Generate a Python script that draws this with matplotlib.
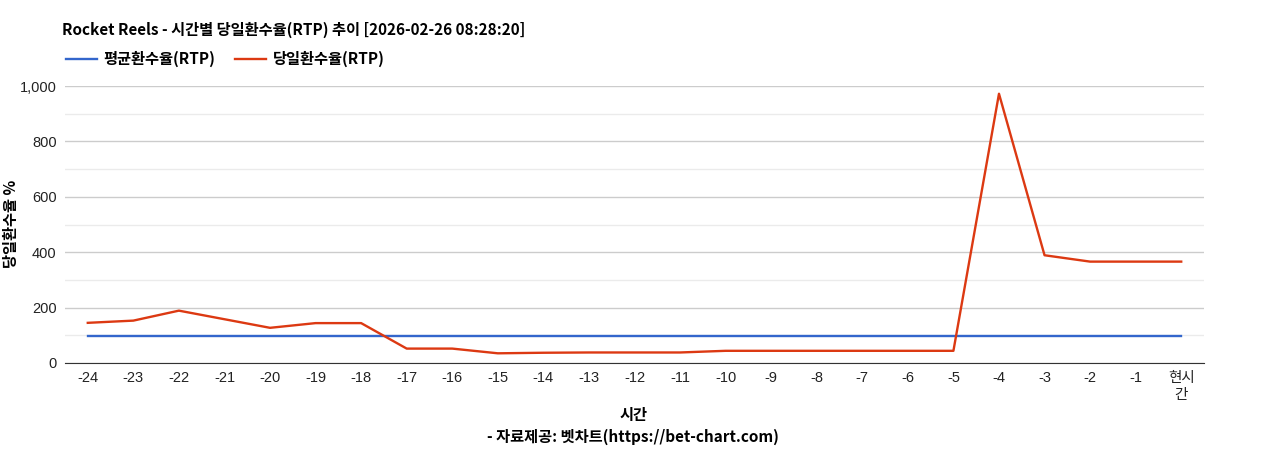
import matplotlib.pyplot as plt
from matplotlib.ticker import FuncFormatter, MultipleLocator

plt.rcParams['font.family'] = ['Liberation Sans', 'Noto Sans CJK KR', 'DejaVu Sans']

hours = ['-24', '-23', '-22', '-21', '-20', '-19', '-18', '-17', '-16', '-15',
         '-14', '-13', '-12', '-11', '-10', '-9', '-8', '-7', '-6', '-5',
         '-4', '-3', '-2', '-1', '현시\n간']
avg_rtp = [96] * 25
day_rtp = [145, 153, 189, 158, 127, 144, 144, 52, 52, 35,
           37, 38, 38, 38, 44, 44, 44, 44, 44, 44,
           972, 389, 366, 366, 366]

title = 'Rocket Reels - 시간별 당일환수율(RTP) 추이 [2026-02-26 08:28:20]'
kr = ['Noto Sans CJK KR', 'DejaVu Sans']

fig = plt.figure(figsize=(12.68, 4.5), dpi=100)
ax = fig.add_axes([65 / 1268, 1 - 363 / 450, (1204 - 65) / 1268, (363 - 86) / 450])

x = list(range(len(hours)))
ax.plot(x, avg_rtp, color='#3366cc', lw=1.7, label='평균환수율(RTP)')
ax.plot(x, day_rtp, color='#dc3912', lw=1.7, label='당일환수율(RTP)')

ax.set_xlim(-0.5, len(hours) - 0.5)
ax.set_ylim(0, 1000)
ax.yaxis.set_major_locator(MultipleLocator(200))
ax.yaxis.set_minor_locator(MultipleLocator(100))
ax.yaxis.set_major_formatter(FuncFormatter(lambda v, p: f'{int(v):,}'))
ax.grid(axis='y', which='major', color='#cccccc', lw=1)
ax.grid(axis='y', which='minor', color='#ebebeb', lw=1)
ax.set_axisbelow(True)
ax.set_xticks(x)
ax.set_xticklabels(hours)
ax.tick_params(axis='both', which='both', length=0, labelsize=10.5, colors='#222222')
ax.tick_params(axis='x', pad=6)
ax.tick_params(axis='y', pad=6)
for s in ['top', 'right', 'left']:
    ax.spines[s].set_visible(False)
ax.spines['bottom'].set_color('#333333')

fig.text(62 / 1268, 1 - 30 / 450, title, fontsize=11, fontweight='bold',
         va='center', ha='left', family=kr)
ax.legend(loc='lower left', bbox_to_anchor=((60 - 65) / 1139, 1.045), ncol=2,
          frameon=False, prop={'family': kr, 'weight': 'bold', 'size': 11},
          handlelength=2.0, handletextpad=0.45, columnspacing=1.3, borderaxespad=0)
fig.text(11 / 1268, 1 - 224 / 450, '당일환수율 %', rotation=90, fontsize=11,
         fontweight='bold', va='center', ha='center', family=kr)
fig.text(634 / 1268, 1 - 415 / 450, '시간', fontsize=11, fontweight='bold',
         va='center', ha='center', family=kr)
fig.text(633 / 1268, 1 - 437 / 450, '- 자료제공: 벳차트(https://bet-chart.com)',
         fontsize=11, fontweight='bold', va='center', ha='center', family=kr)

fig.savefig('out.png', dpi=100)
